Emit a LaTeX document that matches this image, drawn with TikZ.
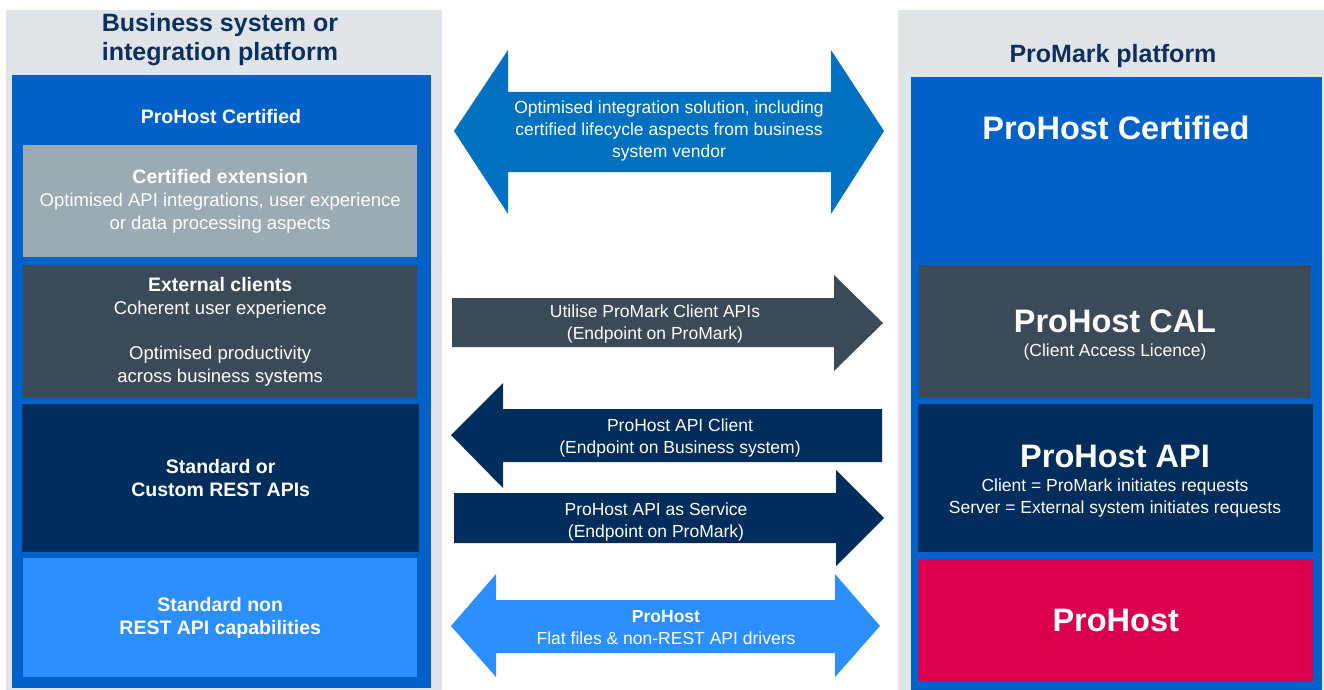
\documentclass[tikz,border=0pt]{standalone}
\usepackage{fontspec}
\setmainfont{Liberation Sans}
\usetikzlibrary{positioning}
\definecolor{panelgrey}{HTML}{DFE5E8}
\definecolor{certblue}{HTML}{0062C8}
\definecolor{arrowblue}{HTML}{0070C0}
\definecolor{extgrey}{HTML}{9BABB3}
\definecolor{slate}{HTML}{3B4A58}
\definecolor{navy}{HTML}{002D5C}
\definecolor{lightblue}{HTML}{2B8FFF}
\definecolor{hostred}{HTML}{DB004F}
\definecolor{titlenavy}{HTML}{0D2F5E}
\tikzstyle{box} = [anchor=north west,inner sep=0pt,text=white,align=center,font=\fontsize{18.5}{23}\selectfont]
\tikzstyle{title} = [align=center,text=titlenavy,font=\fontsize{25}{29}\selectfont\bfseries]
\tikzstyle{arrowtxt} = [align=center,text=white,font=\fontsize{17.5}{22}\selectfont]
\tikzstyle{bigtxt} = [text=white,font=\fontsize{32.5}{36}\selectfont\bfseries]

\begin{document}
\begin{tikzpicture}[x=1pt,y=-1pt]
    \useasboundingbox (0,0) rectangle (1324,690);
    % business system side
    \node [box,fill=panelgrey,minimum width=436pt,minimum height=680pt] (bizpanel) at (6,10) {};
    \node [box,fill=certblue,minimum width=419pt,minimum height=613pt] (bizcert) at (12,75) {};
    \node [title] (biztitle) at (220,40) {Business system or\\integration platform};
    \node [text=white,font=\fontsize{19.5}{23}\selectfont\bfseries] (bizcertlbl) at (221,117) {ProHost Certified};
    \node [box,fill=extgrey,minimum width=394pt,minimum height=112pt] (ext) at (23,145)
      {{\fontsize{19.5}{23}\selectfont\bfseries Certified extension}\\Optimised API integrations, user experience\\or data processing aspects};
    \node [box,fill=slate,minimum width=394pt,minimum height=133pt] (clients) at (23,265)
      {{\fontsize{19.5}{23}\selectfont\bfseries External clients}\\Coherent user experience\\[22pt]Optimised productivity\\across business systems};
    \node [box,fill=navy,minimum width=397pt,minimum height=148pt,font=\fontsize{19.5}{23}\selectfont\bfseries] (rest) at (22,404)
      {Standard or\\Custom REST APIs};
    \node [box,fill=lightblue,minimum width=394pt,minimum height=119pt,font=\fontsize{19.5}{23}\selectfont\bfseries] (nonrest) at (23,558)
      {Standard non\\REST API capabilities};

    % promark side
    \node [box,fill=panelgrey,minimum width=426pt,minimum height=680pt] (pmpanel) at (898,10) {};
    \node [box,fill=certblue,minimum width=411pt,minimum height=613pt] (pmcert) at (911,77) {};
    \node [title] (pmtitle) at (1113,56) {ProMark platform};
    \node [bigtxt] (pmcertlbl) at (1116,128) {ProHost Certified};
    \node [box,fill=slate,minimum width=392pt,minimum height=133pt] (cal) at (919,265) {};
    \node [align=center,text=white,font=\fontsize{17.5}{22}\selectfont] (callbl) at (1115,335)
      {{\fontsize{32.5}{36}\selectfont\bfseries ProHost CAL}\\[2pt](Client Access Licence)};
    \node [box,fill=navy,minimum width=395pt,minimum height=148pt] (api) at (918,404) {};
    \node [align=center,text=white,font=\fontsize{17.5}{22}\selectfont] (apilbl) at (1115,481)
      {{\fontsize{32.5}{36}\selectfont\bfseries ProHost API}\\[2pt]Client = ProMark initiates requests\\Server = External system initiates requests};
    \node [box,fill=hostred,minimum width=395pt,minimum height=122pt,font=\fontsize{32.5}{36}\selectfont\bfseries] (host) at (918,559) {ProHost};

    % block arrows
    \fill [arrowblue] (454,131) -- (508,50) -- (508,92) -- (831,92) -- (831,50) -- (884,131)
      -- (831,214) -- (831,172) -- (508,172) -- (508,214) -- cycle;
    \node [arrowtxt] (solution) at (669,131) {Optimised integration solution, including\\certified lifecycle aspects from business\\system vendor};
    \fill [slate] (452,298) -- (834,298) -- (834,275) -- (883,323) -- (834,371) -- (834,347) -- (452,347) -- cycle;
    \node [arrowtxt] (clientapi) at (655,324) {Utilise ProMark Client APIs\\(Endpoint on ProMark)};
    \fill [navy] (451,435) -- (503,383) -- (503,409) -- (882,409) -- (882,462) -- (503,462) -- (503,488) -- cycle;
    \node [arrowtxt] (apiclient) at (680,438) {ProHost API Client\\(Endpoint on Business system)};
    \fill [navy] (454,493) -- (836,493) -- (836,470) -- (884,518) -- (836,566) -- (836,543) -- (454,543) -- cycle;
    \node [arrowtxt] (apiservice) at (656,522) {ProHost API as Service\\(Endpoint on ProMark)};
    \fill [lightblue] (451,626) -- (496,574) -- (496,600) -- (835,600) -- (835,574) -- (880,626)
      -- (835,677) -- (835,653) -- (496,653) -- (496,677) -- cycle;
    \node [arrowtxt] (flatfiles) at (666,628) {\textbf{ProHost}\\Flat files \& non-REST API drivers};
\end{tikzpicture}
\end{document}
